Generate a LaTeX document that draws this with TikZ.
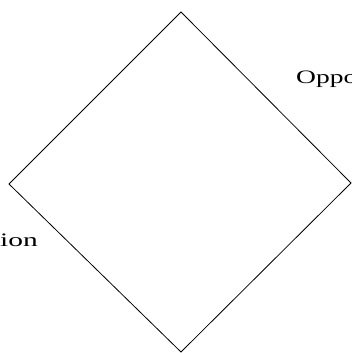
\documentclass[tikz,border=0pt]{standalone}
\usepackage{fontspec}
\usepackage{graphicx}
\setmainfont{Liberation Serif}
\begin{document}
\begin{tikzpicture}[x=1pt,y=-1pt,
  edge/.style={draw=black,line width=0.8pt},
  lbl/.style={inner sep=0pt,font=\fontsize{19}{22}\selectfont}]
\useasboundingbox (0,0) rectangle (352,353);
\clip (0,0) rectangle (352,353);
\coordinate (t) at (181,12);
\coordinate (r) at (351,183);
\coordinate (b) at (181,352);
\coordinate (l) at (9,184);
\draw[edge] (t) -- (r) -- (b) -- (l) -- cycle;
\node[lbl,anchor=base west] (opp) at (296,83) {\scalebox{1.45}[1]{Opportunity}};
\node[lbl,anchor=base east] (ion) at (38,246) {\scalebox{1.55}[1]{Competition}};
\end{tikzpicture}
\end{document}
